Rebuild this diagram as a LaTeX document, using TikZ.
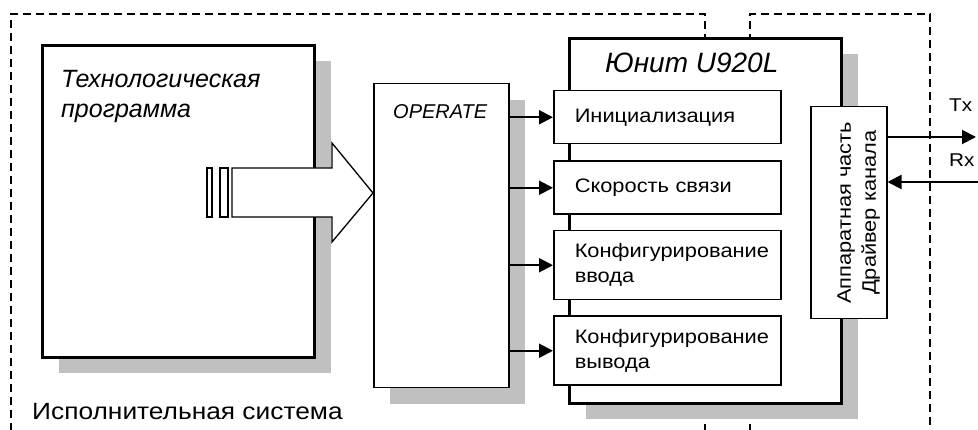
\documentclass[tikz,border=0pt]{standalone}
\usepackage{fontspec}
\setmainfont{Liberation Sans}
\newfontfamily\widesans{Liberation Sans}[FakeStretch=1.12]
\usetikzlibrary{arrows.meta,positioning,shadows}

\definecolor{shadowgrey}{HTML}{C0C0C0}

\tikzset{
  boxshadow/.style={drop shadow={shadow xshift=16pt, shadow yshift=-16pt, opacity=1, fill=shadowgrey}},
  thickbox/.style={draw, fill=white, line width=3pt, anchor=north west, inner sep=0pt, boxshadow},
  thinbox/.style={draw, fill=white, line width=1.5pt, anchor=north west, inner sep=0pt},
  func/.style={thinbox, minimum width=227pt, text width=185pt, inner xsep=21pt, align=left,
    font=\widesans\fontsize{19.5}{25}\selectfont},
  link/.style={line width=2pt, -{Triangle[length=14pt,width=14pt]}},
  border/.style={line width=1.3pt, dash pattern=on 8pt off 5pt},
  caption/.style={inner sep=0pt, align=left},
}

\begin{document}
\begin{tikzpicture}[x=1pt, y=-1pt]
  \useasboundingbox (0,0) rectangle (978,430);

  % system borders
  \draw[border] (705,432) -- (705,14) -- (11,14) -- (11,432);
  \draw[border] (750,432) -- (750,14) -- (930,14) -- (930,432);

  \node[thickbox, minimum width=272pt, minimum height=312pt] (prog) at (41,44) {};
  \node[caption, below right=26pt and 20pt of prog.north west,
    font=\fontsize{25}{30}\selectfont\itshape] (progtext) {Технологическая\\программа};

  % block arrow
  \draw[line width=1.3pt, fill=white] (207,168) rectangle (212,217);
  \draw[line width=1.3pt, fill=white] (220,168) rectangle (228,217);
  \draw[line width=1.3pt, fill=white] (232,168) -- (332,168) -- (332,143) -- (373,193)
    -- (332,242) -- (332,217) -- (232,217) -- cycle;

  \node[thinbox, boxshadow, minimum width=135pt, minimum height=304pt] (operate) at (373,83) {};
  \node[caption, below right=21pt and 20pt of operate.north west,
    font=\fontsize{20}{24}\selectfont\itshape] (optext) {OPERATE};

  \node[thickbox, minimum width=272pt, minimum height=365pt] (unit) at (568,37) {};
  \node[caption, below right=16pt and 37pt of unit.north west,
    font=\fontsize{28}{34}\selectfont\itshape] (unittext) {Юнит U920L};

  \node[func, minimum height=53pt] (init) at (553,90) {Инициализация};
  \node[func, minimum height=53pt, below=16pt of init] (speed) {Скорость связи};
  \node[func, minimum height=69pt, below=15pt of speed] (inconf) {Конфигурирование\\ввода};
  \node[func, minimum height=69pt, below=15pt of inconf] (outconf) {Конфигурирование\\вывода};

  \node[thinbox, minimum width=76pt, minimum height=212pt] (driver) at (810,106) {};
  \node[rotate=90, align=center, inner sep=0pt, font=\widesans\fontsize{19.5}{25}\selectfont] (drvtext)
    at ([xshift=10pt]driver.center) {Аппаратная часть\\Драйвер канала};

  \foreach \f in {init,speed,inconf,outconf}
    \draw[link] (operate.east |- \f.west) -- (\f.west);

  \coordinate (tx) at (976,137);
  \coordinate (rx) at (978,182);
  \draw[link] (driver.east |- tx) -- (tx);
  \draw[link] (rx) -- (driver.east |- rx);
  \node[caption, anchor=west, font=\widesans\fontsize{18.5}{22}\selectfont] (txlabel) at (949,105) {Tx};
  \node[caption, anchor=west, font=\widesans\fontsize{18.5}{22}\selectfont] (rxlabel) at (949,160) {Rx};

  \node[caption, anchor=north west, font=\widesans\fontsize{23.5}{28}\selectfont] (systext) at (32,403)
    {Исполнительная система};
\end{tikzpicture}
\end{document}
